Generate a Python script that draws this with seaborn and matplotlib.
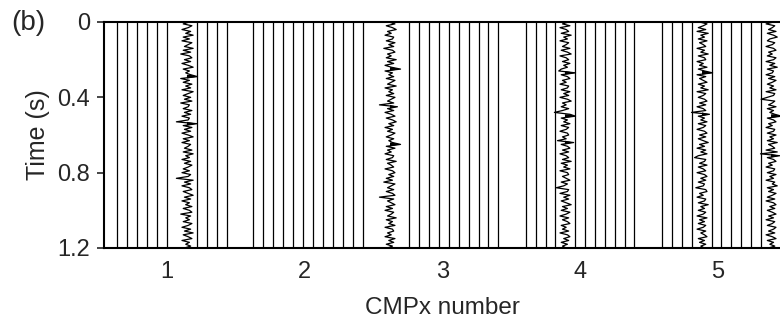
import numpy as np
import pandas as pd
import matplotlib
matplotlib.use("Agg")
import matplotlib.pyplot as plt
import seaborn as sns

# ---------------- data ----------------
# sample times of the noisy traces (s), 10 ms sampling
time_s = np.linspace(0.0, 1.2, 121)

# CMPx positions of the flat (zero) traces
flat_traces = [0.635, 0.707, 0.780, 0.853, 0.925, 0.998,
               1.216, 1.288, 1.361, 1.433,
               1.627, 1.699, 1.772, 1.844, 1.917, 1.990, 2.062, 2.135, 2.207,
               2.276, 2.348, 2.421,
               2.759, 2.832, 2.904, 2.977, 3.049, 3.122, 3.195, 3.267, 3.332, 3.405,
               3.604, 3.677, 3.749, 3.817,
               3.962, 4.034, 4.107, 4.180, 4.253, 4.325, 4.392,
               4.591, 4.664, 4.736, 4.809,
               4.954, 5.022, 5.094, 5.167, 5.240, 5.312]

# CMPx positions of the noisy traces
noisy_pos = [1.145, 2.619, 3.889, 4.884, 5.385]

trace_a = [0.2, -0.3, 0.4, 0.1, -0.4, 0.3, -0.1, 0.5, -0.3, 0.2,
           -0.4, 0.4, 0.1, -0.2, 0.5, -0.3, 0.3, -0.5, 0.2, 0.4,
           -0.2, 0.3, -0.4, 0.1, 0.5, -0.3, 0.2, -0.1, 0.3, 1.0,
           -0.5, 0.2, -0.3, 0.4, -0.1, 0.3, -0.4, 0.5, 0.1, -0.3,
           0.3, -0.2, 0.4, -0.5, 0.2, 0.1, -0.3, 0.4, -0.2, 0.3,
           -0.4, 0.2, 0.1, -1.0, 0.8, -0.3, 0.4, -0.2, 0.3, -0.4,
           0.1, 0.5, -0.3, 0.2, -0.4, 0.3, 0.1, -0.2, 0.4, -0.3,
           0.5, -0.1, 0.2, -0.4, 0.3, -0.2, 0.4, 0.1, -0.3, 0.2,
           -0.4, 0.3, 0.1, -0.9, 0.5, -0.2, 0.3, -0.4, 0.2, 0.4,
           -0.3, 0.1, 0.5, -0.2, 0.3, -0.4, 0.2, -0.1, 0.4, -0.3,
           0.2, 0.4, -0.5, 0.3, -0.1, 0.2, -0.3, 0.4, 0.1, -0.4,
           0.3, -0.2, 0.5, -0.3, 0.1, 0.4, -0.4, 0.2, -0.1, 0.3, -0.2]
trace_b = [-0.1, 0.4, -0.3, 0.2, 0.5, -0.2, 0.1, -0.4, 0.3, 0.2,
           -0.3, 0.4, -0.1, 0.3, -0.5, 0.2, 0.4, -0.2, 0.1, -0.3,
           0.5, -0.2, 0.3, -0.4, 0.1, 1.0, -0.4, 0.2, -0.1, 0.3,
           -0.3, 0.4, 0.1, -0.2, 0.5, -0.4, 0.2, -0.1, 0.3, -0.3,
           0.4, 0.1, -0.2, 0.3, -1.0, 0.6, -0.2, 0.3, -0.4, 0.1,
           0.4, -0.3, 0.2, 0.5, -0.1, 0.3, -0.4, 0.2, -0.2, 0.4,
           0.1, -0.3, 0.3, -0.1, 0.2, 0.9, -0.3, 0.4, -0.2, 0.1,
           -0.4, 0.3, 0.2, -0.3, 0.5, -0.2, 0.1, 0.3, -0.4, 0.2,
           0.4, -0.1, 0.3, -0.3, 0.2, -0.5, 0.4, 0.1, -0.2, 0.3,
           -0.3, 0.2, 0.4, -0.9, 0.3, -0.2, 0.1, 0.4, -0.3, 0.2,
           -0.4, 0.3, 0.1, -0.2, 0.5, -0.3, 0.2, -0.1, 0.4, -0.4,
           0.2, 0.3, -0.2, 0.1, -0.4, 0.4, -0.1, 0.3, -0.3, 0.2, -0.2]
trace_c = [0.3, -0.2, 0.4, -0.4, 0.1, 0.3, -0.3, 0.5, -0.1, 0.2,
           -0.4, 0.3, 0.1, -0.2, 0.4, -0.3, 0.2, 0.5, -0.4, 0.1,
           0.3, -0.2, 0.4, -0.1, 0.2, -0.3, -0.5, 1.0, -0.3, 0.2,
           0.4, -0.2, 0.1, -0.4, 0.3, 0.2, -0.3, 0.4, -0.1, 0.3,
           -0.4, 0.2, 0.5, -0.2, 0.1, -0.3, 0.3, -0.2, -1.0, 0.4,
           1.0, -0.3, 0.2, -0.1, 0.4, -0.3, 0.3, 0.1, -0.4, 0.2,
           0.3, -0.2, 0.1, -0.6, 0.7, -0.3, 0.2, 0.4, -0.2, 0.3,
           -0.4, 0.1, 0.3, -0.2, 0.5, -0.3, 0.2, -0.1, 0.4, -0.4,
           0.2, 0.3, -0.2, 0.1, 0.4, -0.3, 0.2, -0.1, -0.7, 0.3,
           0.2, -0.4, 0.4, -0.1, 0.3, -0.3, 0.1, 0.5, -0.2, 0.2,
           -0.3, 0.4, 0.1, -0.4, 0.3, -0.2, 0.2, 0.4, -0.3, 0.1,
           -0.2, 0.3, -0.4, 0.2, 0.4, -0.1, 0.3, -0.3, 0.2, -0.2, 0.1]
trace_d = [-0.2, 0.4, 0.1, -0.3, 0.3, -0.4, 0.5, -0.1, 0.2, -0.3,
           0.4, -0.2, 0.1, 0.3, -0.4, 0.2, -0.1, 0.5, -0.3, 0.2,
           0.3, -0.4, 0.1, -0.2, 0.4, -0.3, 0.2, 1.0, -0.4, 0.3,
           -0.2, 0.1, 0.4, -0.3, 0.2, -0.1, 0.5, -0.4, 0.3, 0.1,
           -0.3, 0.2, 0.4, -0.2, 0.3, -0.4, 0.1, 0.3, -1.0, 0.6,
           -0.3, 0.2, -0.1, 0.4, -0.3, 0.3, 0.1, -0.4, 0.2, 0.4,
           -0.2, 0.3, -0.3, 0.1, 0.5, -0.2, 0.2, -0.4, 0.3, -0.1,
           0.4, -0.3, -0.6, 0.3, 0.2, -0.2, 0.4, -0.3, 0.1, 0.3,
           -0.4, 0.2, 0.4, -0.1, 0.3, -0.3, 0.2, 0.1, -0.5, 0.3,
           0.4, -0.2, 0.1, -0.4, 0.3, 0.2, -0.3, 0.5, -0.1, 0.2,
           -0.3, 0.3, 0.1, -0.4, 0.4, -0.2, 0.2, -0.3, 0.3, 0.1,
           -0.4, 0.3, -0.1, 0.2, 0.4, -0.3, 0.2, -0.2, 0.3, -0.1, 0.2]
trace_e = [0.2, -0.4, 0.3, 0.1, -0.2, 0.4, -0.3, 0.2, 0.5, -0.1,
           -0.3, 0.3, 0.1, -0.4, 0.2, 0.4, -0.2, 0.1, -0.3, 0.4,
           0.2, -0.4, 0.3, -0.1, 0.5, -0.3, 0.2, 0.1, -0.4, 0.3,
           -0.2, 0.4, 0.1, -0.3, 0.2, -0.1, 0.4, -0.4, 0.3, 0.2,
           -0.3, -0.8, 0.3, 0.1, -0.2, 0.4, -0.3, 0.2, -0.1, 0.3,
           0.9, -0.3, 0.2, 0.4, -0.2, 0.1, -0.4, 0.3, 0.2, -0.3,
           0.4, -0.1, 0.2, -0.3, 0.5, -0.2, 0.1, 0.3, -0.4, 0.5,
           -1.0, 0.7, -0.3, 0.2, 0.4, -0.2, 0.1, -0.4, 0.3, 0.2,
           -0.3, 0.4, -0.1, 0.2, -0.4, 0.3, 0.1, 0.5, -0.3, 0.2,
           -0.2, 0.4, 0.1, -0.3, 0.3, -0.4, 0.2, 0.4, -0.1, 0.3,
           -0.3, 0.1, 0.4, -0.2, 0.2, -0.4, 0.3, 0.1, -0.3, 0.4,
           0.2, -0.2, 0.3, -0.4, 0.1, 0.4, -0.3, 0.2, -0.1, 0.3, -0.2]
noisy_traces = [trace_a, trace_b, trace_c, trace_d, trace_e]

x_ticks = [1, 2, 3, 4, 5]
x_ticklabels = ["1", "2", "3", "4", "5"]
y_ticks = [0, 0.4, 0.8, 1.2]
y_ticklabels = ["0", "0.4", "0.8", "1.2"]

# ---------------- build table ----------------
AMP = 0.09    # trace amplitude scaling in CMPx units
CLIP = 0.85   # wiggle clip (fraction of AMP)
rows = []
for k, xp in enumerate(flat_traces):
    rows.append(("f%d" % k, 0.0, xp))
    rows.append(("f%d" % k, 1.2, xp))
for k, (xp, amp) in enumerate(zip(noisy_pos, noisy_traces)):
    n = min(len(amp), len(time_s))
    for t, a in zip(time_s[:n], amp[:n]):
        rows.append(("n%d" % k, t, xp + AMP * float(np.clip(a, -CLIP, CLIP))))
df = pd.DataFrame(rows, columns=["trace", "time", "x"])

# ---------------- plot ----------------
sns.set_style("ticks")
plt.rcParams["font.family"] = ["Liberation Sans", "DejaVu Sans"]
plt.rcParams["font.size"] = 17

fig = plt.figure(figsize=(7.8, 3.24), dpi=100)
ax = fig.add_axes([104 / 780, 76 / 324, 1 - 104 / 780, 226 / 324])

sns.lineplot(data=df, x="x", y="time", units="trace", estimator=None,
             sort=False, color="black", linewidth=0.9, legend=False, ax=ax)

# variable-area fill of the strong positive lobes
for xp, amp in zip(noisy_pos, noisy_traces):
    n = min(len(amp), len(time_s))
    a = np.clip(np.asarray(amp[:n]), -CLIP, CLIP)
    strong = a > 0.55
    mask = strong.copy()
    mask[1:] |= strong[:-1]
    mask[:-1] |= strong[1:]
    ax.fill_betweenx(time_s[:n], xp, xp + AMP * np.clip(a, 0, None),
                     where=mask, color="black", lw=0)

ax.set_xlim(0.543, 5.450)
ax.set_ylim(1.2, 0)
ax.set_xticks(x_ticks)
ax.set_xticklabels(x_ticklabels)
ax.set_yticks(y_ticks)
ax.set_yticklabels(y_ticklabels)
ax.tick_params(axis="x", length=0, pad=9, labelsize=17)
ax.tick_params(axis="y", length=5, width=1.2, pad=5, labelsize=17, direction="out")

for side in ["left", "top", "bottom"]:
    ax.spines[side].set_visible(True)
    ax.spines[side].set_linewidth(1.5)
    ax.spines[side].set_color("black")
ax.spines["right"].set_visible(False)

ax.set_xlabel("CMPx number", fontsize=17.5)
ax.set_ylabel("Time (s)", fontsize=18)
ax.xaxis.set_label_coords(0.5, -0.215)
ax.yaxis.set_label_coords(-0.08, 0.5)

fig.text(0.014, 0.93, "(b)", fontsize=20, va="center", ha="left")

fig.savefig("out.png", dpi=100)
